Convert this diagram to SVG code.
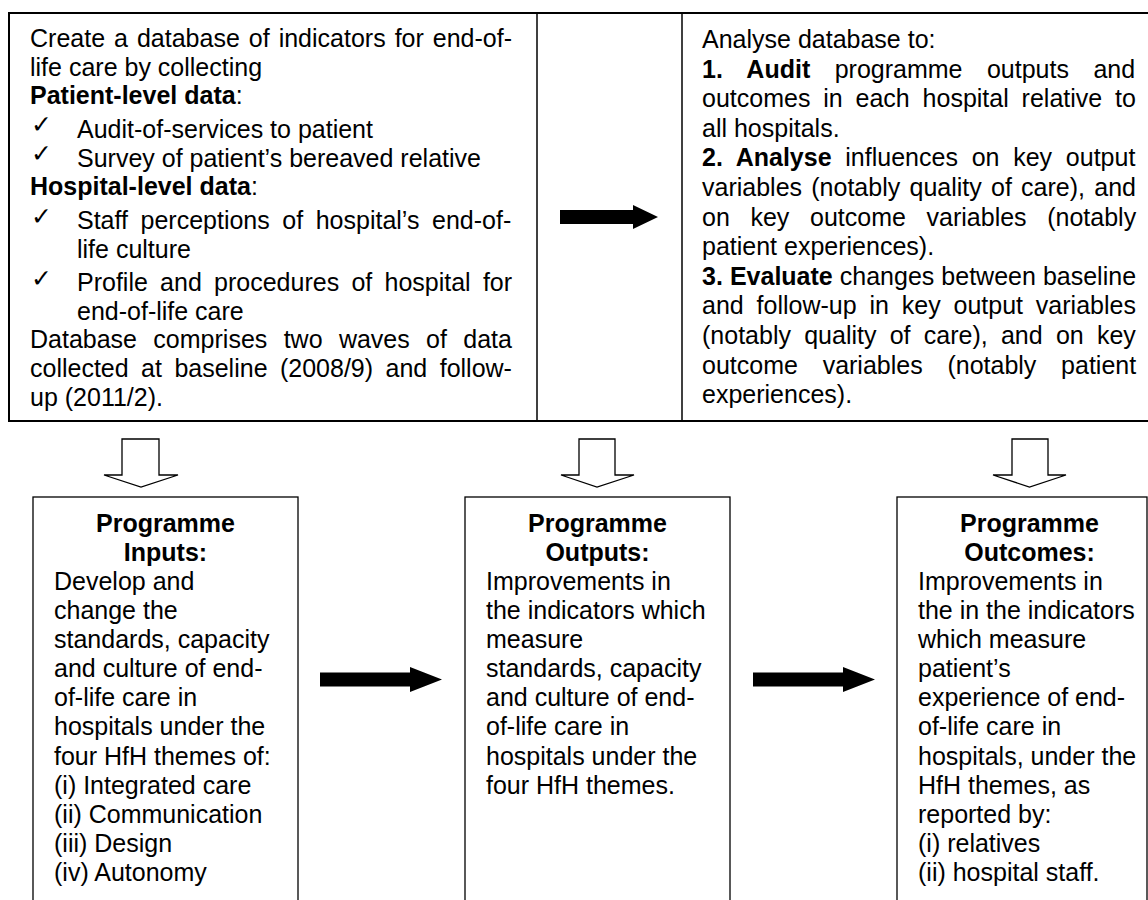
<svg xmlns="http://www.w3.org/2000/svg" width="1148" height="900" viewBox="0 0 1148 900">
<style>
.t{font-family:"Liberation Sans",Arial,sans-serif;font-size:25px;fill:#000}
.b{font-weight:bold}
.c{text-anchor:middle}
.ck{font-family:"DejaVu Sans",sans-serif;font-size:25px;fill:#000}
.grid{stroke:#000;stroke-width:2;fill:none}
.gridv{stroke:#000;stroke-width:1.5;fill:none}
.box{fill:#fff;stroke:#000;stroke-width:1.3}
.hollow{fill:#fff;stroke:#000;stroke-width:1.3;stroke-linejoin:miter}
.solid{fill:#000;stroke:none}
</style>
<rect width="1148" height="900" fill="#fff"/>

<g id="table">
  <line class="grid" x1="9" y1="13" x2="1148" y2="13"/>
  <line class="grid" x1="9" y1="421" x2="1148" y2="421"/>
  <line class="grid" x1="9" y1="12" x2="9" y2="422"/>
  <line class="gridv" x1="537" y1="13" x2="537" y2="421"/>
  <line class="gridv" x1="682" y1="13" x2="682" y2="421"/>
</g>

<g id="node-database">
  <text class="t" x="30" y="47" style="word-spacing:2.05px">Create a database of indicators for end-of-</text>
  <text class="t" x="30" y="75.5">life care by collecting</text>
  <text class="t" x="30" y="104"><tspan class="b">Patient-level data</tspan>:</text>
  <text class="ck" x="31" y="133">✓</text>
  <text class="t" x="77" y="137.5">Audit-of-services to patient</text>
  <text class="ck" x="31" y="162">✓</text>
  <text class="t" x="77" y="166.5">Survey of patient’s bereaved relative</text>
  <text class="t" x="30" y="195"><tspan class="b">Hospital-level data</tspan>:</text>
  <text class="ck" x="31" y="224.5">✓</text>
  <text class="t" x="77" y="229" style="word-spacing:5.6px">Staff perceptions of hospital’s end-of-</text>
  <text class="t" x="77" y="258">life culture</text>
  <text class="ck" x="31" y="286.5">✓</text>
  <text class="t" x="77" y="291" style="word-spacing:5.3px">Profile and procedures of hospital for</text>
  <text class="t" x="77" y="319.5">end-of-life care</text>
  <text class="t" x="30" y="348" style="word-spacing:9.4px">Database comprises two waves of data</text>
  <text class="t" x="30" y="377" style="word-spacing:5.5px">collected at baseline (2008/9) and follow-</text>
  <text class="t" x="30" y="406">up (2011/2).</text>
</g>

<g id="node-analyse">
  <text class="t" x="702" y="48">Analyse database to:</text>
  <text class="t" x="702" y="77.6" style="word-spacing:17.5px"><tspan class="b">1. Audit</tspan> programme outputs and</text>
  <text class="t" x="702" y="107.2" style="word-spacing:5.9px">outcomes in each hospital relative to</text>
  <text class="t" x="702" y="136.8">all hospitals.</text>
  <text class="t" x="702" y="166.4" style="word-spacing:6.8px"><tspan class="b">2. Analyse</tspan> influences on key output</text>
  <text class="t" x="702" y="196" style="word-spacing:2.3px">variables (notably quality of care), and</text>
  <text class="t" x="702" y="225.6" style="word-spacing:13.7px">on key outcome variables (notably</text>
  <text class="t" x="702" y="255.2">patient experiences).</text>
  <text class="t" x="702" y="284.8" style="word-spacing:0.1px"><tspan class="b">3. Evaluate</tspan> changes between baseline</text>
  <text class="t" x="702" y="314.4" style="word-spacing:5.9px">and follow-up in key output variables</text>
  <text class="t" x="702" y="344" style="word-spacing:6.3px">(notably quality of care), and on key</text>
  <text class="t" x="702" y="373.6" style="word-spacing:17.8px">outcome variables (notably patient</text>
  <text class="t" x="702" y="403.2">experiences).</text>
</g>

<g id="node-inputs">
  <rect class="box" x="33" y="497" width="265" height="420"/>
  <text class="t b c" x="165.5" y="532">Programme</text>
  <text class="t b c" x="165.5" y="561">Inputs:</text>
  <text class="t" x="54" y="590">Develop and</text>
  <text class="t" x="54" y="619">change the</text>
  <text class="t" x="54" y="648">standards, capacity</text>
  <text class="t" x="54" y="677">and culture of end-</text>
  <text class="t" x="54" y="706">of-life care in</text>
  <text class="t" x="54" y="735">hospitals under the</text>
  <text class="t" x="54" y="764.5">four HfH themes of:</text>
  <text class="t" x="54" y="793.5">(i) Integrated care</text>
  <text class="t" x="54" y="822.5">(ii) Communication</text>
  <text class="t" x="54" y="851.5">(iii) Design</text>
  <text class="t" x="54" y="880.5">(iv) Autonomy</text>
</g>

<g id="node-outputs">
  <rect class="box" x="465" y="497" width="265" height="420"/>
  <text class="t b c" x="597.5" y="532">Programme</text>
  <text class="t b c" x="597.5" y="561">Outputs:</text>
  <text class="t" x="486" y="590">Improvements in</text>
  <text class="t" x="486" y="619">the indicators which</text>
  <text class="t" x="486" y="648">measure</text>
  <text class="t" x="486" y="677">standards, capacity</text>
  <text class="t" x="486" y="706">and culture of end-</text>
  <text class="t" x="486" y="735">of-life care in</text>
  <text class="t" x="486" y="764.5">hospitals under the</text>
  <text class="t" x="486" y="793.5">four HfH themes.</text>
</g>

<g id="node-outcomes">
  <rect class="box" x="897" y="497" width="250" height="420"/>
  <text class="t b c" x="1029.5" y="532">Programme</text>
  <text class="t b c" x="1029.5" y="561">Outcomes:</text>
  <text class="t" x="918" y="590">Improvements in</text>
  <text class="t" x="918" y="619">the in the indicators</text>
  <text class="t" x="918" y="648">which measure</text>
  <text class="t" x="918" y="677">patient’s</text>
  <text class="t" x="918" y="706">experience of end-</text>
  <text class="t" x="918" y="735">of-life care in</text>
  <text class="t" x="918" y="764.5">hospitals, under the</text>
  <text class="t" x="918" y="793.5">HfH themes, as</text>
  <text class="t" x="918" y="822.5">reported by:</text>
  <text class="t" x="918" y="851.5">(i) relatives</text>
  <text class="t" x="918" y="880.5">(ii) hospital staff.</text>
</g>

<g id="connectors">
  <polygon class="solid" points="560,210 633,210 633,205 658,217 633,229 633,224 560,224"/>
  <polygon class="hollow" points="122,439 159,439 159,475 178,475 141,487 104,475 122,475"/>
  <polygon class="hollow" points="579,439 615,439 615,475 634,475 597,487 561,475 579,475"/>
  <polygon class="hollow" points="1012,439 1048,439 1048,475 1066,475 1029.5,487 993,475 1012,475"/>
  <polygon class="solid" points="320,672.5 410,672.5 410,667 442,679.5 410,692 410,686.5 320,686.5"/>
  <polygon class="solid" points="753,672.5 843,672.5 843,667 875,679.5 843,692 843,686.5 753,686.5"/>
</g>
</svg>
